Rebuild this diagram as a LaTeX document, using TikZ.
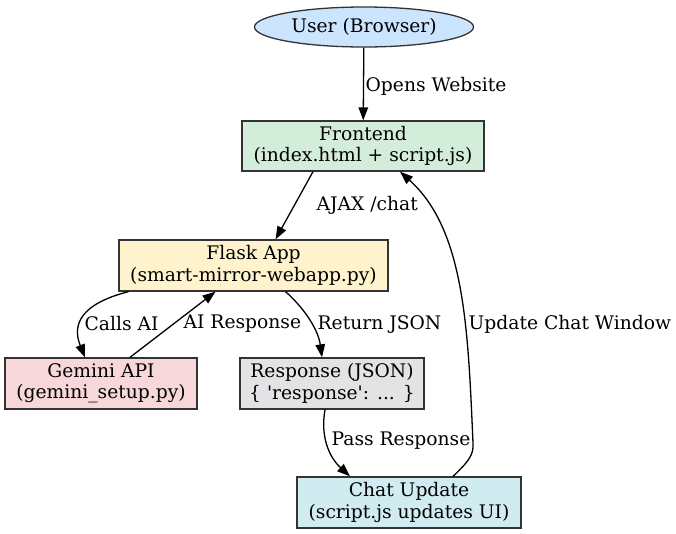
\documentclass[tikz,border=0pt]{standalone}
\usepackage{fontspec}
\setmainfont{DejaVu Serif}
\usetikzlibrary{arrows.meta,shapes.geometric}
\definecolor{userBlue}{HTML}{CCE5FF}
\definecolor{frontGreen}{HTML}{D4EDDA}
\definecolor{flaskYellow}{HTML}{FFF3CD}
\definecolor{geminiRed}{HTML}{F8D7DA}
\definecolor{respGray}{HTML}{E2E3E5}
\definecolor{chatCyan}{HTML}{D1ECF1}

\begin{document}
\begin{tikzpicture}[
  x=1pt,y=-1pt,line width=1.3pt,
  every node/.style={font=\fontsize{18.7}{21.5}\selectfont},
  box/.style={draw=black!80,align=center,inner sep=0pt},
  lbl/.style={anchor=west,inner sep=0pt},
  arrow/.style={-{Triangle[length=13pt,width=9.5pt]}}
]
\useasboundingbox (0,0) rectangle (676,533);
\node[ellipse,draw=black!80,fill=userBlue,minimum width=219pt,minimum height=40pt,inner sep=0pt] (user) at (364,27) {User (Browser)};
\node[box,fill=frontGreen,minimum width=242pt,minimum height=50pt] (front) at (363,146) {Frontend\\(index.html + script.js)};
\node[box,fill=flaskYellow,minimum width=269pt,minimum height=51pt] (flask) at (253.5,265.5) {Flask App\\(smart-mirror-webapp.py)};
\node[box,fill=geminiRed,minimum width=192pt,minimum height=51pt] (gemini) at (101,383.5) {Gemini API\\(gemini\_setup.py)};
\node[box,fill=respGray,minimum width=184pt,minimum height=51pt] (resp) at (332,383.5) {Response (JSON)\\\{ \textquotesingle response\textquotesingle: ... \}};
\node[box,fill=chatCyan,minimum width=224pt,minimum height=51pt] (chat) at (409,502.5) {Chat Update\\(script.js updates UI)};

% edges
\draw[arrow] (user) -- (front);
\draw[arrow] ([xshift=-50pt]front.south) -- ([xshift=22pt]flask.north);
\draw[arrow] ([xshift=-125pt]flask.south) .. controls (80,304) and (72,325) .. ([xshift=-16pt]gemini.north);
\draw[arrow] ([xshift=29pt]gemini.north) -- ([xshift=-38pt]flask.south);
\draw[arrow] ([xshift=32pt]flask.south) .. controls (302,306) and (318,328) .. ([xshift=-10pt]resp.north);
\draw[arrow] ([xshift=-7pt]resp.south) .. controls (320,438) and (330,458) .. ([xshift=-59pt]chat.north);
\draw[arrow] ([xshift=44pt]chat.north) .. controls (468,462) and (474,455) .. (473,443)
  .. controls (468,330) and (465,230) .. ([xshift=37pt]front.south);

% labels
\node[lbl] (opens) at (365,86) {Opens Website};
\node[lbl] (ajax) at (316,205) {AJAX /chat};
\node[lbl] (calls) at (84,324) {Calls AI};
\node[lbl] (airesp) at (183,324) {AI Response};
\node[lbl] (retjson) at (317,324) {Return JSON};
\node[lbl] (updchat) at (468,324) {Update Chat Window};
\node[lbl] (pass) at (331,441) {Pass Response};
\end{tikzpicture}
\end{document}
